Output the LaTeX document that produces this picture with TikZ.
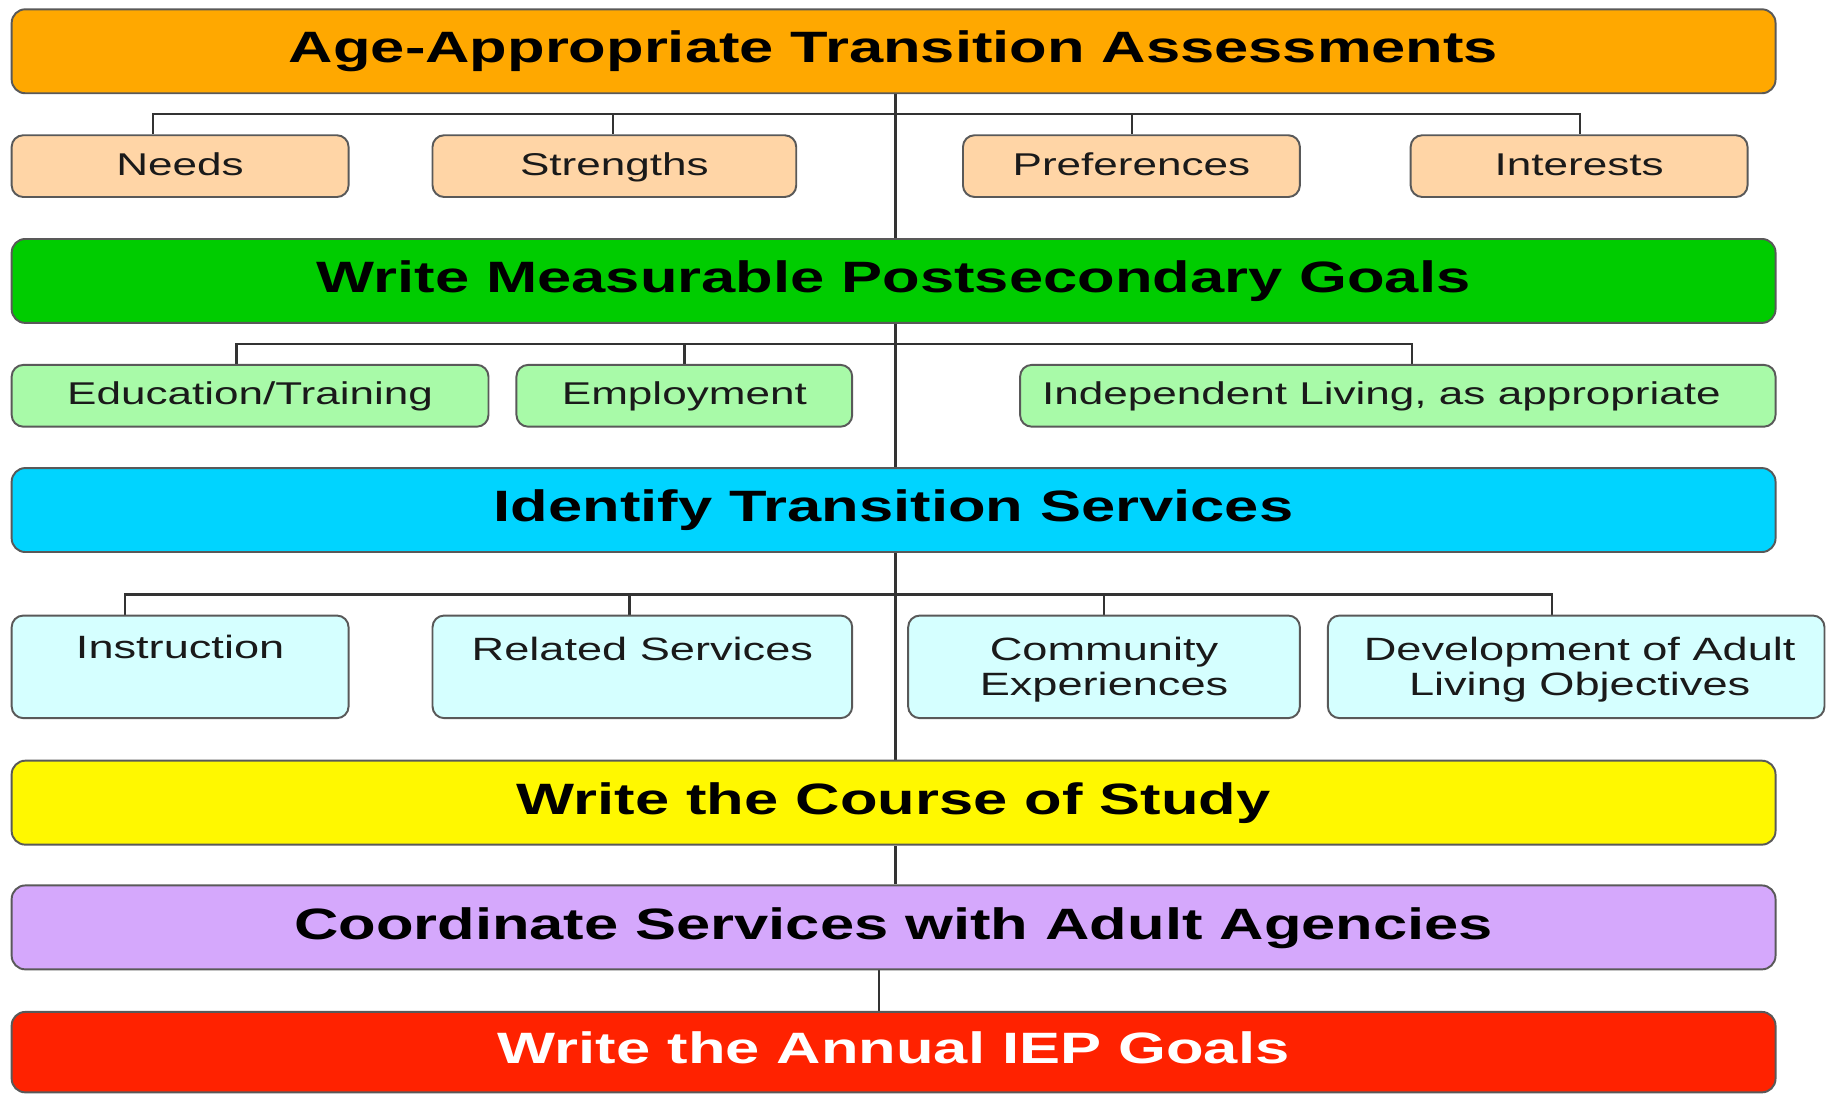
\documentclass[tikz,border=0pt]{standalone}
\usepackage{fontspec}
\setmainfont{Liberation Sans}
\newfontfamily\wide[FakeStretch=1.4]{Liberation Sans}
\pgfdeclarelayer{bg}
\pgfsetlayers{bg,main}
\definecolor{corange}{HTML}{FFA800}
\definecolor{cgreen}{HTML}{00CC00}
\definecolor{ccyan}{HTML}{00D4FF}
\definecolor{cyellow}{HTML}{FFF800}
\definecolor{clav}{HTML}{D5A8FC}
\definecolor{cred}{HTML}{FF2200}
\definecolor{cpeach}{HTML}{FFD5A6}
\definecolor{clgreen}{HTML}{A8FAA8}
\definecolor{clcyan}{HTML}{D5FFFF}
\definecolor{bordergray}{HTML}{595959}
\definecolor{wiregray}{HTML}{333333}
\definecolor{txt}{HTML}{1A1A1A}
\begin{document}
\begin{tikzpicture}[x=0.3pt,y=-0.3pt,
  bar/.style={draw=bordergray, line width=0.5pt, rounded corners=3.5pt,
    minimum width=453.9pt, minimum height=21.6pt, inner sep=0pt,
    text height=8.1pt, text depth=2.1pt,
    font=\wide\bfseries\fontsize{11.3}{13}\selectfont, text=black},
  sub/.style={draw=bordergray, line width=0.5pt, rounded corners=3pt,
    minimum height=15.9pt, inner sep=0pt, text height=5.8pt, text depth=1.2pt,
    font=\wide\fontsize{8.1}{9.3}\selectfont, text=txt},
  tall/.style={sub, fill=clcyan, minimum height=26.4pt},
  lbl/.style={inner sep=0pt, align=center, anchor=north,
    font=\wide\fontsize{8.3}{9}\selectfont, text=txt},
  plain/.style={inner sep=0pt, text height=5.8pt, text depth=1.2pt,
    font=\wide\fontsize{8.1}{9.3}\selectfont, text=txt},
  wire/.style={draw=wiregray, line width=0.6pt}]
\useasboundingbox (0,0) rectangle (1568,938);

% main bars
\node[bar, fill=corange] (assess) at (766.5,44) {Age-Appropriate Transition Assessments};
\node[bar, fill=cgreen] (goals) at (766.5,241) {Write Measurable Postsecondary Goals};
\node[bar, fill=ccyan] (services) at (766.5,437.5) {Identify Transition Services};
\node[bar, fill=cyellow] (course) at (766.5,688.5) {Write the Course of Study};
\node[bar, fill=clav] (coord) at (766.5,795.5) {Coordinate Services with Adult Agencies};
\node[bar, fill=cred, text=white, minimum height=20.7pt] (iep) at (766.5,902.5) {Write the Annual IEP Goals};

% row 1
\node[sub, fill=cpeach, minimum width=86.7pt] (needs) at (154.5,142.5) {Needs};
\node[sub, fill=cpeach, minimum width=93.6pt] (strengths) at (527,142.5) {Strengths};
\node[sub, fill=cpeach, minimum width=86.7pt] (prefs) at (970.5,142.5) {Preferences};
\node[sub, fill=cpeach, minimum width=86.7pt] (interests) at (1354.5,142.5) {Interests};

% row 2
\node[sub, fill=clgreen, minimum width=122.7pt] (edu) at (214.5,339.5) {Education/Training};
\node[sub, fill=clgreen, minimum width=86.4pt] (employ) at (587,339.5) {Employment};
\node[sub, fill=clgreen, minimum width=194.4pt] (indep) at (1199,339.5) {};
\node[plain] (indeptext) at (1185,339.5) {Independent Living, as appropriate};

% row 3
\node[tall, minimum width=86.7pt] (instr) at (154.5,572) {};
\node[tall, minimum width=108pt] (related) at (551,572) {};
\node[tall, minimum width=100.8pt] (community) at (947,572) {};
\node[tall, minimum width=127.8pt] (devel) at (1352,572) {};
\node[lbl] (instrtext) at (154.5,544) {Instruction};
\node[lbl] (relatedtext) at (551,546) {Related Services};
\node[lbl] (communitytext) at (947,546) {Community\\Experiences};
\node[lbl] (develtext) at (1355,546) {Development of Adult\\Living Objectives};

% connector coordinates
\coordinate (tr) at (768,0);
\coordinate (trb) at (754,0);
\coordinate (d1) at (131,98);
\coordinate (d2) at (526,98);
\coordinate (d3) at (971,98);
\coordinate (d4) at (1355,98);
\coordinate (e1) at (203,295);
\coordinate (e2) at (587,295);
\coordinate (e3) at (1211,295);
\coordinate (f1) at (107,510);
\coordinate (f2) at (540,510);
\coordinate (f3) at (947,510);
\coordinate (f4) at (1331,510);

\begin{pgfonlayer}{bg}
  % trunk
  \draw[wire] (assess.south -| tr) -- (course.north -| tr);
  \draw[wire] (course.south -| tr) -- (coord.north -| tr);
  \draw[wire] (coord.south -| trb) -- (iep.north -| trb);
  % row 1 bus
  \draw[wire] (needs.north -| d1) -- (d1) -- (d4) -- (interests.north -| d4);
  \draw[wire] (d2) -- (strengths.north -| d2);
  \draw[wire] (d3) -- (prefs.north -| d3);
  % row 2 bus
  \draw[wire] (edu.north -| e1) -- (e1) -- (e3) -- (indep.north -| e3);
  \draw[wire] (e2) -- (employ.north -| e2);
  % row 3 bus
  \draw[wire] (instr.north -| f1) -- (f1) -- (f4) -- (devel.north -| f4);
  \draw[wire] (f2) -- (related.north -| f2);
  \draw[wire] (f3) -- (community.north -| f3);
\end{pgfonlayer}
\end{tikzpicture}
\end{document}
